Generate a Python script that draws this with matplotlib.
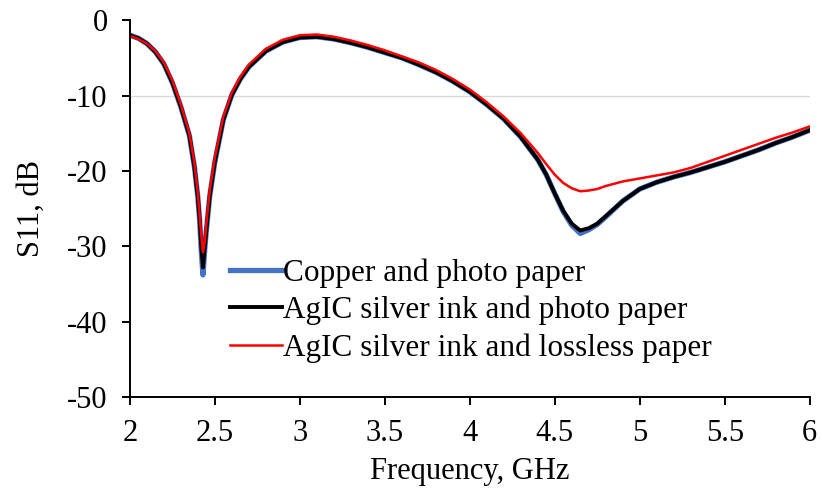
import matplotlib.pyplot as plt

plt.rcParams['font.family'] = ['Liberation Serif', 'DejaVu Serif']
plt.rcParams['font.size'] = 22
plt.rcParams['axes.unicode_minus'] = False

freq = [2.0, 2.05, 2.1, 2.15, 2.2, 2.25, 2.3, 2.35, 2.38, 2.40, 2.41, 2.42, 2.43, 2.44, 2.45,
        2.47, 2.5, 2.55, 2.6, 2.65, 2.7, 2.8, 2.9, 3.0, 3.1, 3.2, 3.3, 3.4, 3.5, 3.6, 3.7,
        3.8, 3.9, 4.0, 4.1, 4.2, 4.3, 4.4, 4.45, 4.5, 4.55, 4.6, 4.65, 4.7, 4.75, 4.8, 4.9,
        5.0, 5.1, 5.2, 5.3, 5.4, 5.5, 5.6, 5.7, 5.8, 5.9, 6.0]

s11_copper = [-2.0, -2.4, -3.1, -4.2, -5.8, -8.3, -11.5, -15.3, -19.5, -23.5, -26.4, -30.5,
              -33.8, -30.6, -27.9, -23.3, -18.8, -13.2, -9.9, -7.8, -6.2, -4.1, -2.9, -2.3,
              -2.2, -2.5, -3.0, -3.6, -4.3, -5.0, -5.9, -6.9, -8.1, -9.5, -11.2, -13.1,
              -15.5, -18.5, -20.5, -23.0, -25.4, -27.2, -28.3, -27.8, -27.1, -26.1, -24.0,
              -22.4, -21.5, -20.8, -20.2, -19.5, -18.8, -18.0, -17.2, -16.3, -15.5, -14.6]

s11_agic = [-2.0, -2.4, -3.1, -4.2, -5.8, -8.3, -11.5, -15.3, -19.5, -23.5, -26.3, -30.0,
            -32.8, -30.2, -27.9, -23.3, -18.8, -13.2, -9.9, -7.8, -6.2, -4.1, -2.9, -2.3,
            -2.2, -2.5, -3.0, -3.6, -4.3, -5.0, -5.9, -6.9, -8.1, -9.5, -11.2, -13.1,
            -15.5, -18.5, -20.5, -23.0, -25.3, -27.0, -27.9, -27.6, -27.0, -26.0, -24.0,
            -22.4, -21.5, -20.8, -20.2, -19.5, -18.8, -18.0, -17.2, -16.3, -15.5, -14.6]

s11_lossless = [-2.1, -2.5, -3.1, -4.1, -5.6, -8.0, -11.2, -15.0, -19.0, -23.0, -25.7, -28.5,
                -30.8, -29.5, -27.0, -22.6, -18.2, -12.8, -9.6, -7.5, -5.9, -3.8, -2.6, -2.0,
                -1.9, -2.2, -2.7, -3.3, -4.0, -4.8, -5.6, -6.6, -7.8, -9.2, -10.9, -12.8,
                -15.0, -17.6, -19.1, -20.5, -21.6, -22.3, -22.7, -22.6, -22.4, -22.0, -21.4,
                -21.0, -20.6, -20.2, -19.6, -18.8, -18.0, -17.2, -16.4, -15.6, -14.9, -14.1]

fig = plt.figure(figsize=(8.22, 4.92), dpi=100)
ax = fig.add_axes([0.158, 0.193, 0.827, 0.766])

ax.axhline(-10, color='#d9d9d9', linewidth=1, zorder=0)
ax.plot(freq, s11_copper, color='#4472c4', linewidth=3.8, label='Copper and photo paper')
ax.plot(freq, s11_agic, color='black', linewidth=2.8, label='AgIC silver ink and photo paper')
ax.plot(freq, s11_lossless, color='#ff0000', linewidth=1.8, label='AgIC silver ink and lossless paper')

ax.set_xlim(2, 6)
ax.set_ylim(-50, 0)
ax.set_xticks([2, 2.5, 3, 3.5, 4, 4.5, 5, 5.5, 6])
ax.set_xticklabels(['2', '2.5', '3', '3.5', '4', '4.5', '5', '5.5', '6'])
ax.set_yticks([0, -10, -20, -30, -40, -50])
ax.tick_params(direction='out', length=6, width=1.4, pad=10, labelsize=22, colors='black')
for side in ['top', 'right']:
    ax.spines[side].set_visible(False)
for side in ['left', 'bottom']:
    ax.spines[side].set_linewidth(1.4)

ax.set_xlabel('Frequency, GHz', fontsize=22, labelpad=6)
ax.set_ylabel('S11, dB', fontsize=22, labelpad=15)

ax.legend(loc='upper left', bbox_to_anchor=(230 / 822, 1 - 258 / 492),
          bbox_transform=fig.transFigure, frameon=False, fontsize=22.5,
          handlelength=1.65, handletextpad=0.05, labelspacing=0.26,
          borderpad=0, borderaxespad=0)

fig.savefig('out.png', dpi=100)
